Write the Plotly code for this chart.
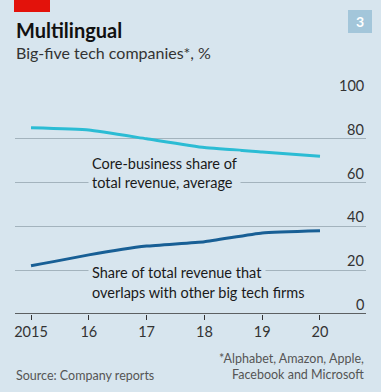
import plotly.graph_objects as go

years = [2015, 2016, 2017, 2018, 2019, 2020]
core_share = [85, 84, 80, 76, 74, 72]
overlap_share = [22, 27, 31, 33, 37, 38]
x_tick_labels = ["2015", "16", "17", "18", "19", "20"]
y_ticks = [0, 20, 40, 60, 80, 100]

BG = "#d7e5ee"
FONT = "Lato"
TXT = "#333333"

fig = go.Figure()
fig.add_trace(go.Scatter(x=years, y=core_share, mode="lines",
                         line=dict(color="#2bbcd4", width=3, shape="spline", smoothing=0.4),
                         hoverinfo="skip", showlegend=False))
fig.add_trace(go.Scatter(x=years, y=overlap_share, mode="lines",
                         line=dict(color="#185f95", width=3, shape="spline", smoothing=0.4),
                         hoverinfo="skip", showlegend=False))

fig.update_layout(
    width=381, height=392,
    paper_bgcolor=BG, plot_bgcolor=BG,
    margin=dict(l=15, r=15, t=95, b=78),
    font=dict(family=FONT, color=TXT, size=14),
    hovermode=False,
    xaxis=dict(range=[2014.723, 2020.796], tickvals=years, ticktext=x_tick_labels,
               showgrid=False, zeroline=False, showline=False, fixedrange=True,
               ticks="outside", ticklen=5, tickcolor="#333333", tickwidth=1,
               tickfont=dict(size=14.5, color=TXT, family=FONT)),
    yaxis=dict(range=[0, 100], tickvals=y_ticks, showticklabels=False, fixedrange=True,
               showgrid=True, gridcolor="#a3b3bd", gridwidth=1,
               zeroline=False, showline=False),
)

# zero baseline
fig.add_shape(type="line", xref="paper", yref="y", x0=0, x1=1, y0=0, y1=0,
              line=dict(color="#333333", width=1.3))

# y tick labels right-aligned above gridlines
for v in y_ticks:
    fig.add_annotation(x=1, xref="paper", y=v, yref="y", text=str(v), showarrow=False,
                       xanchor="right", yanchor="bottom", yshift=-1,
                       font=dict(size=14.5, color=TXT, family=FONT))

# line labels
fig.add_annotation(x=2015.98, y=64.5, xref="x", yref="y",
                   text="Core-business share of<br>total revenue, average",
                   showarrow=False, xanchor="left", yanchor="middle", align="left",
                   bgcolor=BG, borderpad=3,
                   font=dict(size=14.5, color="#1a1a1a", family=FONT))
fig.add_annotation(x=2015.98, y=18.8, xref="x", yref="y",
                   text="Share of total revenue that",
                   showarrow=False, xanchor="left", yanchor="middle", align="left",
                   bgcolor=BG, borderpad=3,
                   font=dict(size=14.5, color="#1a1a1a", family=FONT))
fig.add_annotation(x=2015.98, y=10.0, xref="x", yref="y",
                   text="overlaps with other big tech firms",
                   showarrow=False, xanchor="left", yanchor="middle", align="left",
                   borderpad=3,
                   font=dict(size=14.5, color="#1a1a1a", family=FONT))

# header
fig.add_shape(type="rect", xref="paper", yref="paper",
              x0=(14-15)/351, x1=(50-15)/351,
              y0=(314-12)/219, y1=(314-0)/219,
              line=dict(width=0), fillcolor="#e3120b")
fig.add_shape(type="rect", xref="paper", yref="paper",
              x0=(348-15)/351, x1=(372-15)/351,
              y0=(314-33)/219, y1=(314-10)/219,
              line=dict(width=0), fillcolor="#a3c6da")
fig.add_annotation(x=(360-15)/351, y=(314-21.5)/219, xref="paper", yref="paper",
                   text="<b>3</b>", showarrow=False, xanchor="center", yanchor="middle",
                   font=dict(size=14, color="white", family=FONT))

fig.add_annotation(x=(14-15)/351, y=(314-30)/219, xref="paper", yref="paper",
                   text="<b>Multilingual</b>", showarrow=False, xanchor="left", yanchor="middle",
                   font=dict(size=20, color="#111111", family=FONT))
fig.add_annotation(x=(14-15)/351, y=(314-53)/219, xref="paper", yref="paper",
                   text="Big-five tech companies*, %", showarrow=False, xanchor="left", yanchor="middle",
                   font=dict(size=16, color="#333333", family=FONT))

# footer
fig.add_annotation(x=(14-15)/351, y=(314-375)/219, xref="paper", yref="paper",
                   text="Source: Company reports", showarrow=False, xanchor="left", yanchor="middle",
                   font=dict(size=12.5, color="#555555", family=FONT))
fig.add_annotation(x=1, y=(314-366.5)/219, xref="paper", yref="paper",
                   text="*Alphabet, Amazon, Apple,<br>Facebook and Microsoft", showarrow=False,
                   xanchor="right", yanchor="middle", align="right",
                   font=dict(size=12.5, color="#555555", family=FONT))

fig.write_html("out.html", config={"displayModeBar": False, "staticPlot": True},
               post_script="document.body.style.margin='0';document.body.style.overflow='hidden';")
